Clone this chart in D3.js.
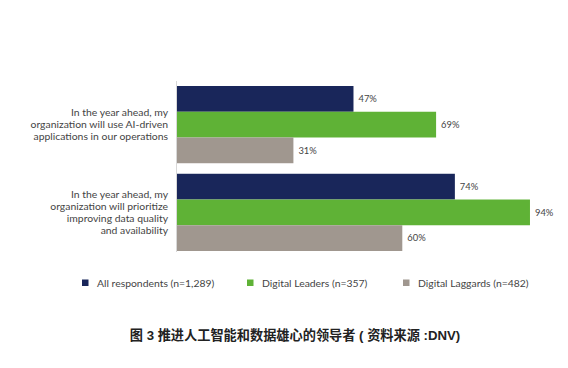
<!DOCTYPE html>
<html><head><meta charset="utf-8">
<script src="https://cdn.jsdelivr.net/npm/d3@7"></script>
<style>body{margin:0;background:#fff}svg{display:block}</style>
</head><body><svg id="c" width="568" height="368"></svg>
<script>
const categories = [
  ["In the year ahead, my","organization will use AI-driven","applications in our operations"],
  ["In the year ahead, my","organization will prioritize","improving data quality","and availability"]
];
const seriesNames = ["All respondents (n=1,289)","Digital Leaders (n=357)","Digital Laggards (n=482)"];
const allRespondents = [47, 74];
const digitalLeaders = [69, 94];
const digitalLaggards = [31, 60];
const seriesValues = [allRespondents, digitalLeaders, digitalLaggards];
const colors = ["#19265a", "#5fb236", "#a0978f"];
const title = "图 3 推进人工智能和数据雄心的领导者 ( 资料来源 :DNV)";

const svg = d3.select("#c");
const font = "Lato, 'Open Sans', sans-serif";
const x = d3.scaleLinear().domain([0,100]).range([177,552.5]);
const y0 = d3.scaleBand().domain(d3.range(categories.length)).range([86,251]).paddingInner(0.12).paddingOuter(0.0);
const y1 = d3.scaleBand().domain(d3.range(seriesNames.length)).range([0,y0.bandwidth()]);

svg.append("line").attr("x1",176.5).attr("x2",176.5).attr("y1",81).attr("y2",252)
  .attr("stroke","#d8d8d8").attr("stroke-width",1);

categories.forEach((cat,i)=>{
  const g = svg.append("g");
  seriesValues.forEach((vals,s)=>{
    const yy = y0(i)+y1(s);
    g.append("rect").attr("x",x(0)).attr("y",yy).attr("width",x(vals[i])-x(0)).attr("height",y1.bandwidth())
      .attr("fill",colors[s]);
    g.append("text").attr("x",x(vals[i])+5).attr("y",yy+y1.bandwidth()/2).attr("dy","0.35em")
      .attr("font-family",font).attr("font-size",9.4).attr("fill","#444").text(vals[i]+"%");
  });
  const cy = y0(i)+y0.bandwidth()/2;
  const lh = 11.8;
  const t = svg.append("text").attr("text-anchor","end").attr("font-family",font).attr("font-size",10.4).attr("fill","#444");
  cat.forEach((line,k)=>{
    t.append("tspan").attr("x",168).attr("y",cy + (k-(cat.length-1)/2)*lh).attr("dy","0.35em").text(line);
  });
});

const legX = [82, 247, 403];
seriesNames.forEach((n,s)=>{
  svg.append("rect").attr("x",legX[s]).attr("y",279.5).attr("width",6.5).attr("height",6.5).attr("fill",colors[s]);
  svg.append("text").attr("x",legX[s]+15).attr("y",283).attr("dy","0.35em")
    .attr("font-family",font).attr("font-size",10.4).attr("fill","#444").text(n);
});

svg.append("text").attr("x",295).attr("y",335).attr("dy","0.35em").attr("text-anchor","middle")
  .attr("font-family","'Liberation Sans', 'Noto Sans CJK SC', sans-serif").attr("font-size",13.2).attr("font-weight","bold").attr("fill","#222").text(title);
</script></body></html>
